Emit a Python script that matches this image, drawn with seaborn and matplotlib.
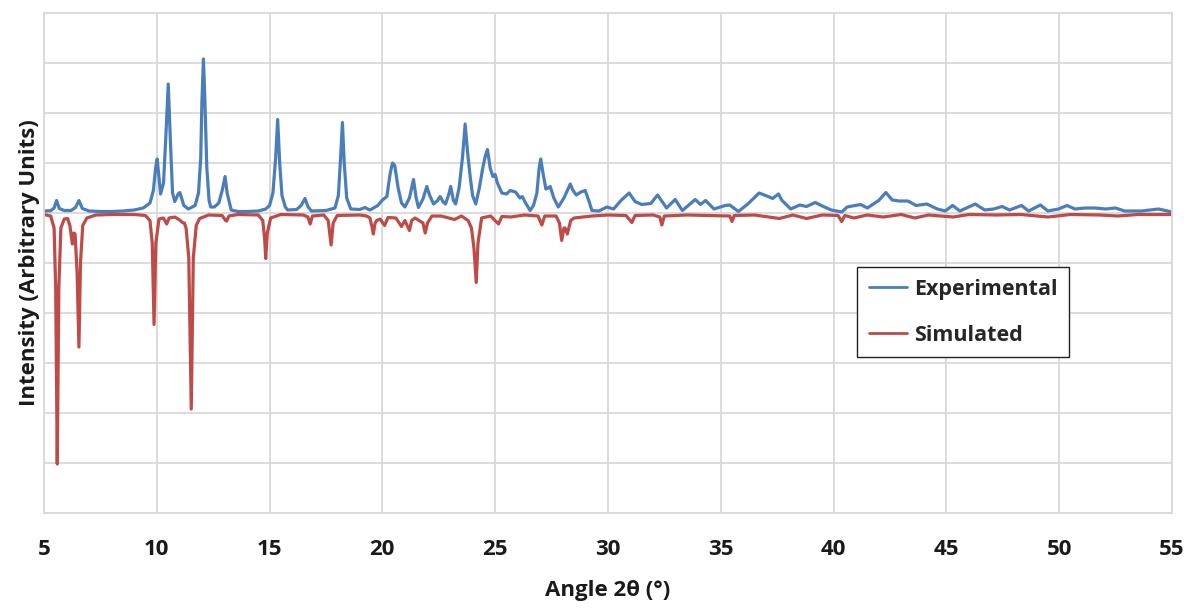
import matplotlib
matplotlib.use("Agg")
import matplotlib.pyplot as plt
import pandas as pd
import seaborn as sns

# Powder diffraction traces: 2-theta (degrees) and intensity (arbitrary units).
# The simulated pattern is stored as negative intensities so it hangs below the baseline.
exp_two_theta = [
    5.0, 5.3, 5.45, 5.56, 5.68, 5.9, 6.2, 6.4, 6.55, 6.7, 7.0, 7.5, 8.0, 8.5, 9.0,
    9.4, 9.7, 9.85, 9.95, 10.02, 10.1, 10.17, 10.3, 10.4, 10.51, 10.6, 10.7, 10.8,
    10.95, 11.02, 11.1, 11.2, 11.4, 11.7, 11.85, 11.95, 12.0, 12.07, 12.13, 12.22,
    12.32, 12.39, 12.55, 12.75, 12.9, 13.03, 13.12, 13.3, 13.6, 14.0, 14.5, 14.83,
    15.0, 15.15, 15.27, 15.36, 15.45, 15.55, 15.7, 15.8, 16.2, 16.4, 16.57, 16.7,
    16.85, 17.5, 17.9, 18.05, 18.15, 18.23, 18.31, 18.42, 18.6, 19.0, 19.23, 19.45,
    19.8, 19.98, 20.2, 20.35, 20.45, 20.55, 20.7, 20.85, 21.0, 21.2, 21.38, 21.5,
    21.6, 21.8, 21.97, 22.1, 22.27, 22.45, 22.56, 22.7, 22.8, 22.95, 23.03, 23.15,
    23.25, 23.4, 23.55, 23.67, 23.78, 23.9, 24.0, 24.14, 24.3, 24.45, 24.57, 24.66,
    24.78, 24.9, 25.0, 25.1, 25.3, 25.5, 25.67, 25.9, 26.1, 26.2, 26.35, 26.55,
    26.7, 26.85, 26.95, 27.02, 27.12, 27.25, 27.35, 27.44, 27.6, 27.8, 28.05, 28.33,
    28.45, 28.6, 28.8, 28.99, 29.15, 29.29, 29.6, 29.95, 30.25, 30.6, 30.94, 31.2,
    31.5, 31.9, 32.2, 32.4, 32.6, 32.98, 33.3, 33.87, 34.1, 34.33, 34.7, 35.2,
    35.4, 35.78, 36.2, 36.7, 37.1, 37.3, 37.56, 37.7, 38.1, 38.5, 38.8, 39.19,
    39.55, 39.9, 40.37, 40.6, 41.2, 41.5, 42.0, 42.32, 42.6, 42.9, 43.3, 43.66,
    44.14, 44.6, 44.95, 45.28, 45.6, 46.28, 46.7, 47.1, 47.47, 47.8, 48.33, 48.65,
    49.17, 49.5, 49.97, 50.35, 50.7, 51.15, 51.6, 52.05, 52.5, 52.9, 53.65, 54.41,
    55.0,
]
exp_intensity = [
    40, 45, 100, 250, 90, 50, 50, 110, 250, 90, 40, 30, 30, 40, 60,
    100, 200, 450, 900, 1080, 700, 380, 600, 1500, 2580, 1500, 400, 230,
    380, 410, 300, 150, 80, 150, 400, 1100, 2200, 3080, 2300, 900,
    250, 120, 120, 200, 450, 730, 400, 60, 30, 30, 40, 80,
    150, 400, 1100, 1870, 1000, 350, 120, 60, 70, 150, 290, 130,
    40, 50, 100, 350, 1100, 1810, 1000, 300, 80, 70, 110, 60,
    150, 250, 330, 800, 1000, 950, 500, 200, 120, 300, 670, 300,
    110, 280, 530, 350, 180, 250, 330, 220, 180, 380, 530, 250,
    180, 500, 1100, 1780, 1200, 700, 350, 180, 500, 900, 1150, 1270,
    900, 730, 770, 600, 400, 380, 450, 420, 300, 330, 200, 50,
    150, 400, 900, 1080, 800, 480, 500, 530, 300, 120, 300, 580,
    450, 360, 420, 450, 250, 50, 40, 120, 80, 260, 400, 230,
    170, 190, 360, 230, 100, 270, 50, 270, 170, 250, 80, 150,
    160, 30, 180, 400, 330, 290, 380, 260, 80, 160, 130, 210,
    130, 60, 20, 120, 170, 100, 250, 410, 260, 240, 240, 150,
    180, 80, 40, 150, 40, 180, 60, 80, 130, 60, 150, 40,
    160, 40, 80, 150, 80, 100, 100, 80, 100, 40, 40, 80,
    20,
]

sim_two_theta = [
    5.0, 5.3, 5.45, 5.52, 5.59, 5.66, 5.75, 5.9, 6.05, 6.15, 6.26, 6.33, 6.38,
    6.47, 6.55, 6.62, 6.72, 6.9, 7.3, 8.0, 9.0, 9.5, 9.7, 9.8, 9.88, 9.96, 10.1,
    10.3, 10.44, 10.55, 10.8, 11.05, 11.13, 11.22, 11.3, 11.42, 11.53, 11.62,
    11.75, 11.9, 12.3, 12.9, 13.05, 13.1, 13.2, 13.6, 14.5, 14.7, 14.78, 14.83,
    14.9, 15.05, 15.5, 16.5, 16.7, 16.8, 16.9, 17.4, 17.6, 17.73, 17.82, 18.0,
    19.0, 19.3, 19.45, 19.55, 19.6, 19.68, 19.75, 19.9, 20.1, 20.25, 20.6, 20.85,
    21.0, 21.2, 21.3, 21.45, 21.8, 21.9, 22.0, 22.2, 22.6, 23.2, 23.5, 23.8,
    23.95, 24.06, 24.16, 24.24, 24.4, 24.8, 25.15, 25.3, 25.7, 26.3, 26.9, 27.07,
    27.2, 27.7, 27.85, 27.95, 28.05, 28.1, 28.2, 28.35, 28.5, 29.3, 30.0, 30.8,
    31.06, 31.2, 32.0, 32.3, 32.39, 32.5, 33.5, 34.5, 35.4, 35.5, 35.6, 36.5,
    37.6, 38.2, 38.8, 39.5, 40.2, 40.36, 40.5, 40.9, 41.5, 42.2, 43.0, 43.6,
    44.2, 45.3, 46.0, 47.2, 48.3, 49.5, 50.5, 51.8, 52.6, 53.5, 55.0,
]
sim_intensity = [
    -30, -60, -300, -1500, -5020, -1500, -300, -120, -110, -250, -620, -400, -420,
    -1200, -2680, -1000, -250, -100, -40, -30, -30, -50, -150, -600, -2230, -600, -120,
    -100, -220, -100, -80, -150, -190, -200, -300, -900, -3920, -900,
    -250, -110, -40, -50, -150, -160, -60, -30, -40, -150, -500, -910,
    -400, -100, -30, -40, -80, -220, -60, -40, -150, -640, -200, -50,
    -40, -60, -100, -300, -420, -200, -150, -120, -250, -90, -100, -270,
    -150, -350, -150, -100, -200, -400, -200, -60, -60, -130, -60, -150,
    -300, -700, -1390, -600, -100, -60, -220, -70, -80, -40, -60, -240,
    -60, -60, -200, -550, -300, -300, -420, -150, -100, -60, -40, -50,
    -190, -50, -40, -80, -240, -60, -40, -50, -60, -170, -50, -40,
    -110, -40, -110, -40, -50, -170, -50, -100, -40, -80, -30, -100,
    -40, -80, -30, -40, -30, -80, -30, -40, -60, -30, -30,
]

x_ticks = [5, 10, 15, 20, 25, 30, 35, 40, 45, 50, 55]
series_names = ["Experimental", "Simulated"]
series_colors = ["#4A7EBB", "#BE4B48"]

exp_df = pd.DataFrame({"two_theta": exp_two_theta, "intensity": exp_intensity})
sim_df = pd.DataFrame({"two_theta": sim_two_theta, "intensity": sim_intensity})

sns.set_theme(style="whitegrid")
font_list = ["Open Sans", "DejaVu Sans"]
plt.rcParams["font.family"] = font_list

fig = plt.figure(figsize=(11.91, 6.10), dpi=100)
ax = fig.add_axes([0.0369, 0.159, 0.9471, 0.8197])

sns.lineplot(data=exp_df, x="two_theta", y="intensity", ax=ax,
             color=series_colors[0], linewidth=2.3, label=series_names[0],
             estimator=None, sort=False)
sns.lineplot(data=sim_df, x="two_theta", y="intensity", ax=ax,
             color=series_colors[1], linewidth=2.3, label=series_names[1],
             estimator=None, sort=False)

ax.set_xlim(x_ticks[0], x_ticks[-1])
ax.set_ylim(-6000, 4000)
ax.set_xticks(x_ticks)
ax.set_xticklabels([str(t) for t in x_ticks], fontsize=16, fontweight="bold",
                   color="#1a1a1a")
ax.set_yticks(range(-6000, 4001, 1000))
ax.set_yticklabels([])
ax.tick_params(axis="x", length=0, pad=19)
ax.tick_params(axis="y", length=0, pad=0)

ax.grid(True, color="#d9d9d9", linewidth=1.3)
for side in ["left", "right", "top", "bottom"]:
    ax.spines[side].set_color("#d9d9d9")
    ax.spines[side].set_linewidth(1.3)

ax.set_xlabel("Angle 2θ (°)", fontsize=16, fontweight="bold", color="#1a1a1a",
              labelpad=14)
ax.set_ylabel("Intensity (Arbitrary Units)", fontsize=16, fontweight="bold",
              color="#1a1a1a", labelpad=3)

leg = ax.legend(loc="upper left", bbox_to_anchor=(0.7207, 0.492), frameon=True,
                fancybox=False, framealpha=1, edgecolor="#222222",
                prop={"family": font_list, "weight": "bold", "size": 15.5},
                handlelength=1.8, handletextpad=0.3, labelspacing=1.15,
                borderpad=0.55, borderaxespad=0)
leg.get_frame().set_linewidth(1.0)
for line in leg.get_lines():
    line.set_linewidth(2.0)

fig.savefig("out.png", dpi=100, facecolor="white")
